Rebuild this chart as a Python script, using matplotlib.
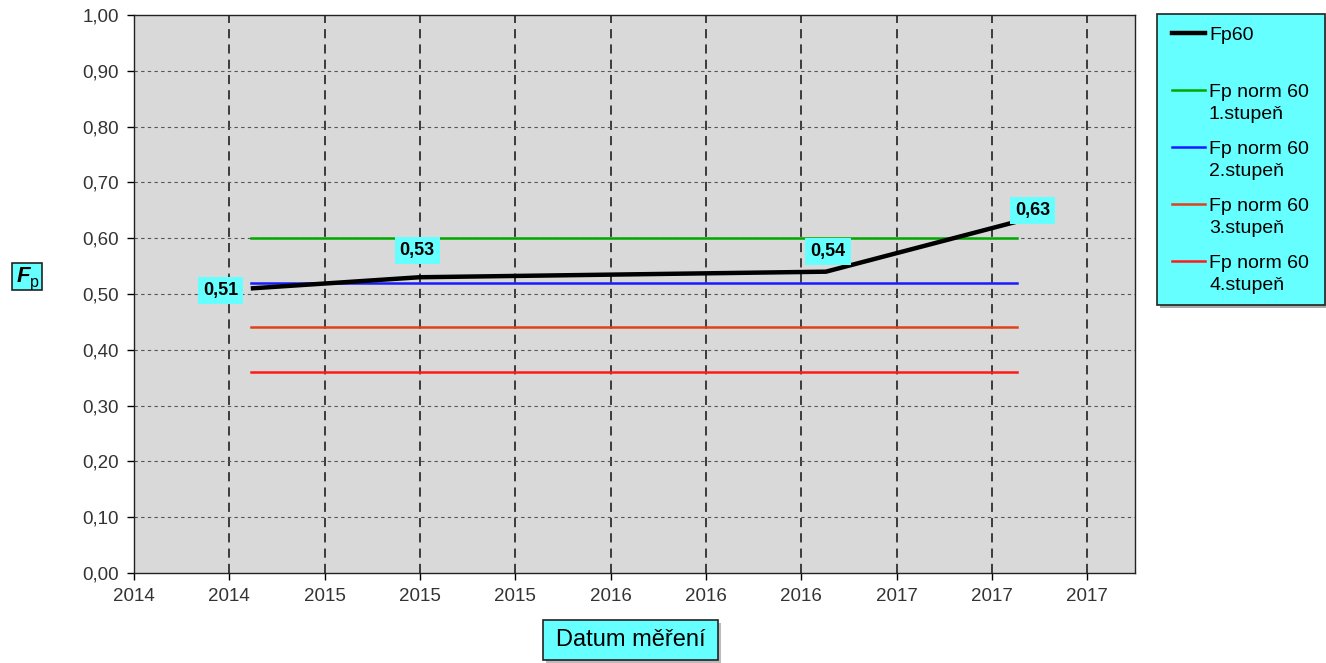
import numpy as np
import matplotlib
matplotlib.use("Agg")
import matplotlib.pyplot as plt
import matplotlib.dates as mdates
from matplotlib.patches import Rectangle
from matplotlib.lines import Line2D
from matplotlib.ticker import FuncFormatter, MultipleLocator

plt.rcParams["font.family"] = ["Liberation Sans", "DejaVu Sans"]

# =========================================================
# Data
# =========================================================

measure_dates = ["2014-10-26", "2015-05-26", "2016-10-19", "2017-06-17"]
fp60_values = [0.51, 0.53, 0.54, 0.63]
fp60_labels = ["0,51", "0,53", "0,54", "0,63"]

norm_levels = [0.60, 0.52, 0.44, 0.36]
norm_colors = ["#00A800", "#1A1AFF", "#E0401A", "#FF1A1A"]
norm_names = [
    "Fp norm 60\n1.stupeň",
    "Fp norm 60\n2.stupeň",
    "Fp norm 60\n3.stupeň",
    "Fp norm 60\n4.stupeň",
]

axis_start = "2014-06-01"
tick_step_days = 120
n_ticks = 11

# label offsets in points (dx, dy)
label_offsets = [(-21.6, -1.4), (-1.4, 19.4), (1.4, 14.4), (10.8, 7.9)]

CYAN = "#66FFFF"

# =========================================================
# Figure
# =========================================================

fig = plt.figure(figsize=(13.26, 6.63), dpi=100)
fig.patch.set_facecolor("white")

ax = fig.add_axes([134 / 1326, 1 - 573 / 663, 1001 / 1326, 558 / 663])
ax.set_facecolor("#D9D9D9")

x = mdates.datestr2num(measure_dates)
x0 = mdates.datestr2num(axis_start)
ticks = x0 + np.arange(n_ticks) * tick_step_days

# gridlines
for t in ticks[1:]:
    ax.axvline(t, color="#111111", lw=1.1, linestyle=(0, (6, 4)), zorder=1)
for yv in np.arange(0.1, 1.0, 0.1):
    ax.axhline(yv, color="#555555", lw=0.8, linestyle=(0, (3, 3)), zorder=1)

# normative levels
for lvl, col in zip(norm_levels, norm_colors):
    ax.plot([x[0], x[-1]], [lvl, lvl], color=col, lw=1.8, zorder=2)

# measured Fp60
ax.plot(x, fp60_values, color="black", lw=3.2, zorder=3,
        solid_capstyle="butt")

for xi, yi, txt, off in zip(x, fp60_values, fp60_labels, label_offsets):
    ax.annotate(txt, (xi, yi), xytext=off, textcoords="offset points",
                ha="center", va="center", fontsize=13, fontweight="bold",
                color="black", zorder=5,
                bbox=dict(boxstyle="square,pad=0.28", fc=CYAN, ec="none"))

ax.set_xlim(x0, x0 + 10.5 * tick_step_days)
ax.set_ylim(0, 1.0)
ax.set_xticks(ticks)
ax.set_xticklabels([mdates.num2date(t).strftime("%Y") for t in ticks])
ax.yaxis.set_major_locator(MultipleLocator(0.1))
ax.yaxis.set_major_formatter(
    FuncFormatter(lambda v, _: f"{v:.2f}".replace(".", ",")))
ax.tick_params(axis="both", direction="out", length=5, width=1,
               labelsize=13.5, labelcolor="#333333", pad=6)

for sp in ax.spines.values():
    sp.set_color("#222222")
    sp.set_linewidth(1.0)

# =========================================================
# Axis labels in boxes
# =========================================================

# shadow + box for x label
fig.patches.append(Rectangle((546 / 1326, 1 - 663 / 663), 175 / 1326, 40 / 663,
                             transform=fig.transFigure, fc="#BBBBBB",
                             ec="none", zorder=0))
fig.patches.append(Rectangle((543 / 1326, 1 - 660 / 663), 175 / 1326, 40 / 663,
                             transform=fig.transFigure, fc=CYAN,
                             ec="#222222", lw=1.2, zorder=1))
fig.text(630.5 / 1326, 1 - 640 / 663, "Datum měření", ha="center",
         va="center", fontsize=17, color="black")

# y label box
fig.patches.append(Rectangle((12 / 1326, 1 - 290 / 663), 30 / 1326, 27 / 663,
                             transform=fig.transFigure, fc=CYAN,
                             ec="#222222", lw=1.2, zorder=1))
fig.text(23 / 1326, 1 - 276 / 663, "F", ha="center", va="center",
         fontsize=16, fontweight="bold", fontstyle="italic")
fig.text(34 / 1326, 1 - 282 / 663, "p", ha="center", va="center",
         fontsize=11.5)

# =========================================================
# Legend (drawn by hand)
# =========================================================

fig.patches.append(Rectangle((1160 / 1326, 1 - 308 / 663), 168 / 1326,
                             291 / 663, transform=fig.transFigure,
                             fc="#AAAAAA", ec="none", zorder=0))
fig.patches.append(Rectangle((1157 / 1326, 1 - 305 / 663), 168 / 1326,
                             291 / 663, transform=fig.transFigure,
                             fc=CYAN, ec="#222222", lw=1.2, zorder=1))

legend_rows = [33, 90, 147, 204, 261]
legend_colors = ["black"] + norm_colors
legend_widths = [3.2] + [1.8] * 4
legend_texts = ["Fp60"] + norm_names

for yrow, col, lw, txt in zip(legend_rows, legend_colors, legend_widths,
                              legend_texts):
    yf = 1 - yrow / 663
    fig.lines.append(Line2D([1172 / 1326, 1205 / 1326], [yf, yf],
                            transform=fig.transFigure, color=col, lw=lw))
    fig.text(1209 / 1326, yf + 6 / 663, txt, ha="left", va="top",
             fontsize=14, color="black", linespacing=1.4)

fig.savefig("out.png", dpi=100)
